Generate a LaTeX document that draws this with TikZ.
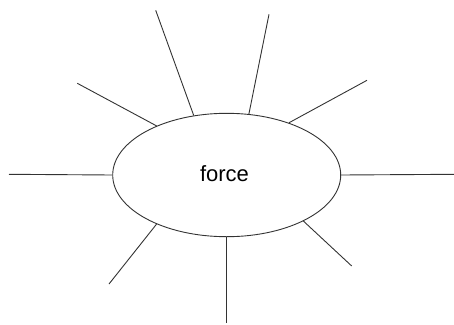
\documentclass[tikz,border=0pt]{standalone}
\usepackage{fontspec}
\setmainfont{Liberation Sans}
\usetikzlibrary{shapes.geometric}
\begin{document}
\begin{tikzpicture}[x=1pt,y=-1pt,
  ray/.style={draw=black!80,line width=0.9pt},
  bubble/.style={ellipse,draw=black!80,line width=0.9pt,minimum width=228pt,minimum height=123.4pt,inner sep=0pt,font=\fontsize{22pt}{26pt}\selectfont}]
\useasboundingbox (0,0) rectangle (454,324);
\node[bubble] (f) at (226.7,175) {};
\node[font=\fontsize{22pt}{26pt}\selectfont,inner sep=0pt] (t) at (224.5,173.5) {force};
\coordinate (e1) at (155.7,10.3);
\coordinate (e2) at (269,14.3);
\coordinate (e3) at (77.3,83.3);
\coordinate (e4) at (367,80.3);
\coordinate (e5) at (9,174.3);
\coordinate (e6) at (454,174.3);
\coordinate (e7) at (109,284);
\coordinate (e8) at (351.7,266);
\coordinate (e9) at (226.7,323);
\draw[ray] (f.119) -- (e1);
\draw[ray] (f.70.5) -- (e2);
\draw[ray] (f.145.4) -- (e3);
\draw[ray] (f.40.5) -- (e4);
\draw[ray] (f.180) -- (e5);
\draw[ray] (f.0) -- (e6);
\draw[ray] (f.215) -- (e7);
\draw[ray] (f.329.4) -- (e8);
\draw[ray] (f.270) -- (e9);
\end{tikzpicture}
\end{document}
